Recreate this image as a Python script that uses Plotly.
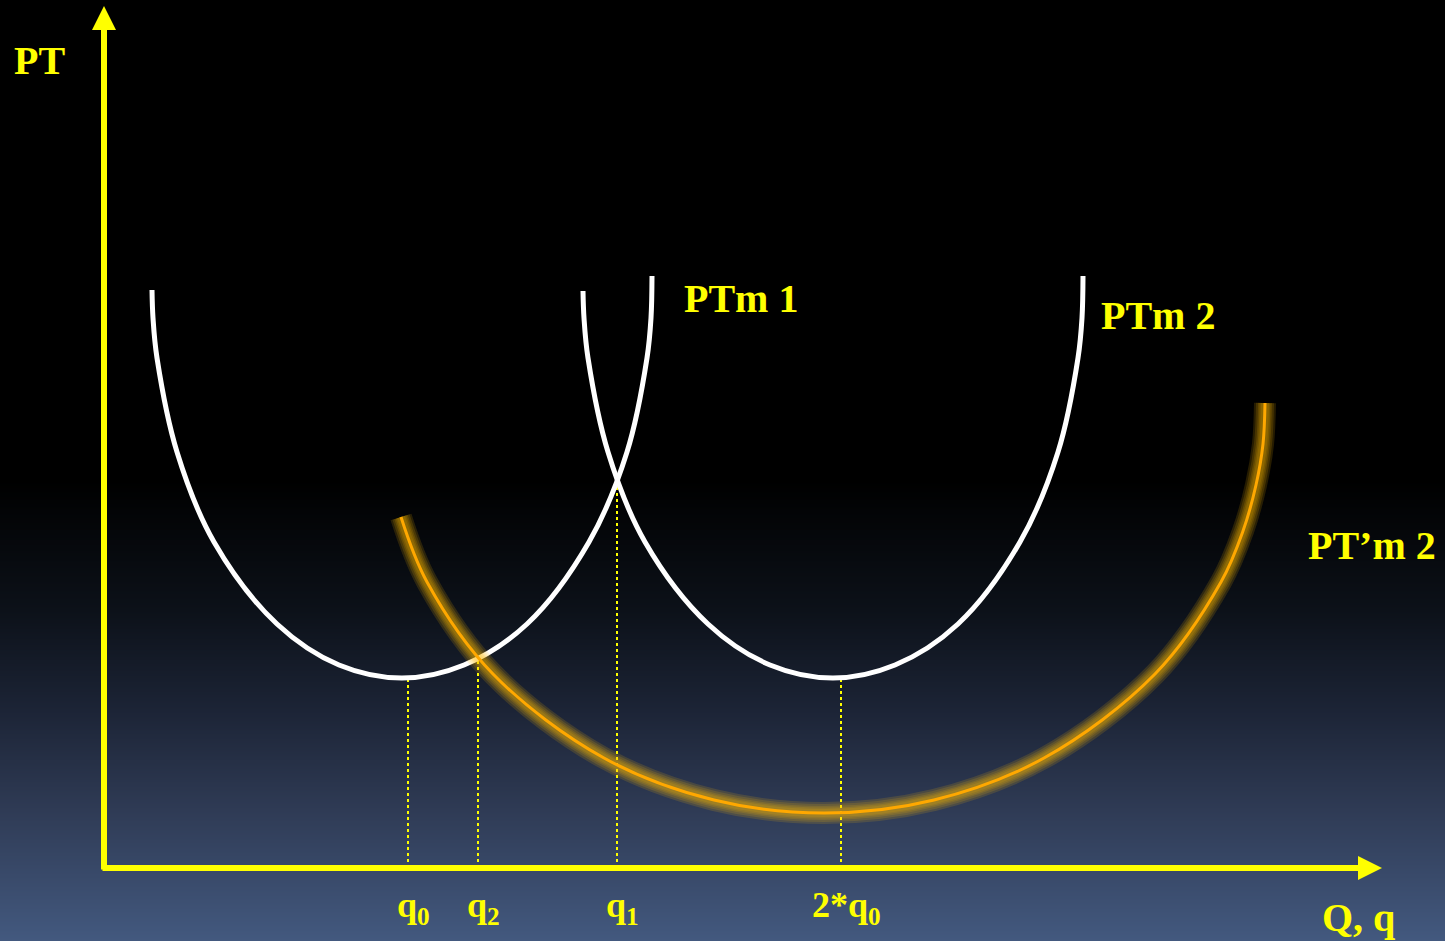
"""
PT curves: two short-run average cost curves (PTm 1, PTm 2) and the shifted one (PT'm 2)
"""

import plotly.graph_objects as go

# units: horizontal / vertical distance from the origin of the axes
curve1_x = [48, 49, 53, 73, 110, 173, 235, 298, 360, 423, 485, 523, 543, 547, 548]
curve1_y = [578, 550, 510, 416, 326, 244, 203, 190, 203, 244, 326, 416, 510, 550, 592]

curve2_x = [479, 480, 484, 504, 541, 604, 666, 729, 791, 854, 916, 954, 974, 978, 979]
curve2_y = [577, 550, 510, 416, 326, 244, 203, 190, 203, 244, 326, 416, 510, 550, 592]

curve3_x = [297, 323, 389, 500, 610, 720, 830, 940, 1051, 1117, 1139, 1152, 1159, 1161]
curve3_y = [351, 286, 194, 110, 68, 55, 68, 110, 194, 286, 337, 383, 424, 465]

# quantities marked on the Q axis and the height of the dotted guide
q_pos = [304, 374, 513, 737]
q_top = [188, 208, 383, 188]
q_labels = ['q<sub>0</sub>', 'q<sub>2</sub>', 'q<sub>1</sub>', '2*q<sub>0</sub>']

# background gradient (bottom -> top)
bg_y = [-73, 58, 158, 258, 388, 868]
bg_colors = ['#43597f', '#2f3b55', '#1c2436', '#0c1119', '#000000', '#000000']

X_RANGE = [-104, 1341]
Y_RANGE = [-73, 868]
YELLOW = '#FFFF00'
FONT = 'Liberation Serif'

fig = go.Figure()

# fundo em degradê
n = len(bg_y)
fig.add_trace(go.Heatmap(
    x=X_RANGE,
    y=bg_y,
    z=[[i, i] for i in range(n)],
    colorscale=[[i / (n - 1), c] for i, c in enumerate(bg_colors)],
    zsmooth='best',
    showscale=False,
    hoverinfo='skip'
))

# linhas pontilhadas
for x, top in zip(q_pos, q_top):
    fig.add_trace(go.Scatter(
        x=[x, x], y=[0, top], mode='lines',
        line=dict(color=YELLOW, width=2, dash='dot'),
        hoverinfo='skip'
    ))

# curvas brancas
for cx, cy in [(curve1_x, curve1_y), (curve2_x, curve2_y)]:
    fig.add_trace(go.Scatter(
        x=cx, y=cy, mode='lines',
        line=dict(color='white', width=5, shape='spline', smoothing=1.0),
        hoverinfo='skip'
    ))

# curva laranja com brilho (várias camadas transparentes)
for w in [22, 18, 14, 11, 8]:
    fig.add_trace(go.Scatter(
        x=curve3_x, y=curve3_y, mode='lines',
        line=dict(color='rgba(255,190,0,0.15)', width=w, shape='spline', smoothing=1.0),
        hoverinfo='skip'
    ))
fig.add_trace(go.Scatter(
    x=curve3_x, y=curve3_y, mode='lines',
    line=dict(color='#FFA800', width=3, shape='spline', smoothing=1.0),
    hoverinfo='skip'
))

# eixos com setas
fig.add_annotation(x=0, y=862, ax=0, ay=-3, xref='x', yref='y', axref='x', ayref='y',
                   text='', showarrow=True, arrowhead=2, arrowsize=0.8,
                   arrowwidth=6, arrowcolor=YELLOW)
fig.add_annotation(x=1278, y=0, ax=-3, ay=0, xref='x', yref='y', axref='x', ayref='y',
                   text='', showarrow=True, arrowhead=2, arrowsize=0.8,
                   arrowwidth=6, arrowcolor=YELLOW)

# textos
label_font = dict(family=FONT, size=40, color=YELLOW)
for txt, x, y in [('<b>PT</b>', -65, 808), ('<b>PTm 1</b>', 637, 570),
                  ('<b>PTm 2</b>', 1054, 553), ('<b>PT’m 2</b>', 1268, 323),
                  ('<b>Q, q</b>', 1254, -49)]:
    fig.add_annotation(x=x, y=y, xref='x', yref='y', text=txt, showarrow=False,
                       font=label_font, xanchor='center', yanchor='middle')

tick_font = dict(family=FONT, size=36, color=YELLOW)
for x, txt in zip(q_pos, q_labels):
    fig.add_annotation(x=x, y=-39, xref='x', yref='y', text=f'<b>{txt}</b>',
                       showarrow=False, font=tick_font, xanchor='center',
                       yanchor='middle', xshift=5)

fig.update_layout(
    width=1445, height=941,
    margin=dict(l=0, r=0, t=0, b=0),
    paper_bgcolor='black', plot_bgcolor='black',
    showlegend=False,
    xaxis=dict(range=X_RANGE, visible=False, fixedrange=True),
    yaxis=dict(range=Y_RANGE, visible=False, fixedrange=True),
)

# tira a margem padrão do <body> para o gráfico ocupar a janela toda
fig.write_html("out.html", config={'displayModeBar': False},
               post_script="document.body.style.margin='0';")
